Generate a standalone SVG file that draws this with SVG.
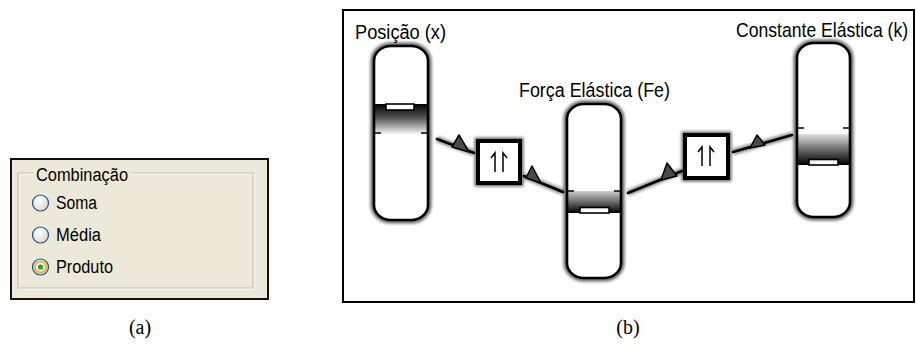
<svg xmlns="http://www.w3.org/2000/svg" width="916" height="356" viewBox="0 0 916 356">
  <style>
    .ui { font-family: "Liberation Sans", Arial, sans-serif; font-size: 18px; fill: #000; }
    .lbl { font-family: "Liberation Sans", Arial, sans-serif; font-size: 20px; fill: #000; }
    .cap { font-family: "Liberation Serif", "Times New Roman", serif; font-size: 20px; fill: #000; }
    .halo { fill: none; stroke: #000; stroke-opacity: 0.6; stroke-width: 7; filter: url(#soft); }
    .edge { fill: none; stroke: #000; stroke-width: 2.6; }
    .tick { stroke: #000; stroke-width: 1.4; }
    .knob { fill: #fff; stroke: #000; stroke-width: 1.6; }
    .op { fill: #fff; stroke: #000; stroke-width: 4; }
    .sym { fill: none; stroke: #000; stroke-width: 1.5; }
    .wire { fill: none; stroke: #000; stroke-width: 2.6; stroke-linecap: round; }
    .wirehalo { fill: none; stroke: #000; stroke-opacity: 0.45; stroke-width: 6; filter: url(#soft); }
    .head { fill: #4a4a4a; stroke: #000; stroke-width: 1.5; stroke-linejoin: round; }
    .radio { fill: url(#radioFill); stroke: #1c5180; stroke-width: 1.2; }
  </style>
  <defs>
    <filter id="soft" x="-30%" y="-30%" width="160%" height="160%">
      <feGaussianBlur stdDeviation="1.8"/>
    </filter>
    <radialGradient id="radioFill" cx="0.4" cy="0.35" r="0.75">
      <stop offset="0" stop-color="#ffffff"/>
      <stop offset="1" stop-color="#d4d3cb"/>
    </radialGradient>
    <linearGradient id="band1" gradientUnits="userSpaceOnUse" x1="0" y1="104" x2="0" y2="135">
      <stop offset="0" stop-color="#000"/>
      <stop offset="0.45" stop-color="#555"/>
      <stop offset="1" stop-color="#fff"/>
    </linearGradient>
    <linearGradient id="band2" gradientUnits="userSpaceOnUse" x1="0" y1="191" x2="0" y2="213">
      <stop offset="0" stop-color="#cfcfcf"/>
      <stop offset="0.6" stop-color="#555"/>
      <stop offset="1" stop-color="#000"/>
    </linearGradient>
    <linearGradient id="band3" gradientUnits="userSpaceOnUse" x1="0" y1="134" x2="0" y2="165">
      <stop offset="0" stop-color="#e0e0e0"/>
      <stop offset="0.6" stop-color="#555"/>
      <stop offset="1" stop-color="#000"/>
    </linearGradient>
    <clipPath id="clip1"><rect x="374" y="46" width="54" height="174" rx="17" ry="15"/></clipPath>
    <clipPath id="clip2"><rect x="567" y="104" width="54" height="174" rx="17" ry="15"/></clipPath>
    <clipPath id="clip3"><rect x="797" y="43" width="53" height="174" rx="17" ry="15"/></clipPath>
  </defs>

  <!-- (a) option group -->
  <g id="panel-a">
    <rect x="11" y="159" width="257" height="140" fill="#ece9d8" stroke="#111" stroke-width="2"/>
    <path d="M33 174 H19 V289 H254 V174 H131" fill="none" stroke="#fff" stroke-width="1"/>
    <path d="M33 173 H18 V288 H253 V173 H131" fill="none" stroke="#c3c2b2" stroke-width="1.2"/>
    <text class="ui" x="36" y="181" textLength="92" lengthAdjust="spacingAndGlyphs">Combinação</text>
    <g id="opt-soma">
      <circle class="radio" cx="40.5" cy="203" r="8"/>
      <text class="ui" x="56" y="209" textLength="41" lengthAdjust="spacingAndGlyphs">Soma</text>
    </g>
    <g id="opt-media">
      <circle class="radio" cx="40.5" cy="235" r="8"/>
      <text class="ui" x="56" y="241" textLength="45" lengthAdjust="spacingAndGlyphs">Média</text>
    </g>
    <g id="opt-produto">
      <circle class="radio" cx="40.5" cy="267" r="8"/>
      <circle cx="40.5" cy="267" r="5.6" fill="none" stroke="#f5b33a" stroke-width="2"/>
      <circle cx="40.5" cy="267" r="2.6" fill="#2aa12a"/>
      <text class="ui" x="56" y="273" textLength="57" lengthAdjust="spacingAndGlyphs">Produto</text>
    </g>
  </g>

  <!-- (b) frame -->
  <rect x="343" y="10" width="571" height="292" fill="#fff" stroke="#000" stroke-width="2"/>

  <!-- connectors -->
  <g id="connectors">
    <g id="c1">
      <path class="wirehalo" d="M437 139 L474 153"/>
      <path class="wire" d="M437 139 L474 153"/>
      <polygon class="head" points="452,147 459,135 469,152"/>
    </g>
    <g id="c2">
      <path class="wirehalo" d="M524 176 L563 192"/>
      <path class="wire" d="M524 176 L563 192"/>
      <polygon class="head" points="526,178 532,166 541,183"/>
    </g>
    <g id="c3">
      <path class="wirehalo" d="M628 193 L682 171"/>
      <path class="wire" d="M628 193 L682 171"/>
      <polygon class="head" points="661,180 667,163 677,176"/>
    </g>
    <g id="c4">
      <path class="wirehalo" d="M733 152 L792 135"/>
      <path class="wire" d="M733 152 L792 135"/>
      <polygon class="head" points="750,148 757,135 765,145"/>
    </g>
  </g>

  <!-- Posição (x) -->
  <g id="posicao">
    <text class="lbl" x="355" y="39" textLength="91" lengthAdjust="spacingAndGlyphs">Posição (x)</text>
    <rect class="halo" x="374" y="46" width="54" height="174" rx="17" ry="15"/>
    <rect x="374" y="46" width="54" height="174" rx="17" ry="15" fill="#fff"/>
    <g clip-path="url(#clip1)">
      <rect x="374" y="104" width="54" height="31" fill="url(#band1)"/>
    </g>
    <rect class="knob" x="386" y="104" width="28" height="6"/>
    <path class="tick" d="M375 133 H381 M421 133 H427"/>
    <rect class="edge" x="374" y="46" width="54" height="174" rx="17" ry="15"/>
  </g>

  <!-- Força Elástica (Fe) -->
  <g id="forca">
    <text class="lbl" x="519" y="97" textLength="151" lengthAdjust="spacingAndGlyphs">Força Elástica (Fe)</text>
    <rect class="halo" x="567" y="104" width="54" height="174" rx="17" ry="15"/>
    <rect x="567" y="104" width="54" height="174" rx="17" ry="15" fill="#fff"/>
    <g clip-path="url(#clip2)">
      <rect x="567" y="191" width="54" height="22" fill="url(#band2)"/>
    </g>
    <rect class="knob" x="580" y="207.5" width="29" height="5.5"/>
    <path class="tick" d="M568 191 H574 M614 191 H620"/>
    <rect class="edge" x="567" y="104" width="54" height="174" rx="17" ry="15"/>
  </g>

  <!-- Constante Elástica (k) -->
  <g id="constante">
    <text class="lbl" transform="translate(736 37) scale(0.88 1)">Constante Elástica (k)</text>
    <rect class="halo" x="797" y="43" width="53" height="174" rx="17" ry="15"/>
    <rect x="797" y="43" width="53" height="174" rx="17" ry="15" fill="#fff"/>
    <g clip-path="url(#clip3)">
      <rect x="797" y="134" width="53" height="31" fill="url(#band3)"/>
    </g>
    <rect class="knob" x="809" y="159.5" width="29" height="5.5"/>
    <path class="tick" d="M798 128 H804 M843 128 H849"/>
    <rect class="edge" x="797" y="43" width="53" height="174" rx="17" ry="15"/>
  </g>

  <!-- operator boxes -->
  <g id="op1">
    <rect class="halo" x="478" y="141" width="42" height="42" stroke-width="8"/>
    <rect class="op" x="478" y="141" width="42" height="42"/>
    <path class="sym" d="M495 172 V153 L491 158 M503 172 V153 L507 158"/>
  </g>
  <g id="op2">
    <rect class="halo" x="685" y="135" width="43" height="43" stroke-width="8"/>
    <rect class="op" x="685" y="135" width="43" height="43"/>
    <path class="sym" d="M702 166 V147 L698 152 M710 166 V147 L714 152"/>
  </g>

  <!-- captions -->
  <text class="cap" x="140" y="334" text-anchor="middle">(a)</text>
  <text class="cap" x="628" y="334" text-anchor="middle">(b)</text>
</svg>
